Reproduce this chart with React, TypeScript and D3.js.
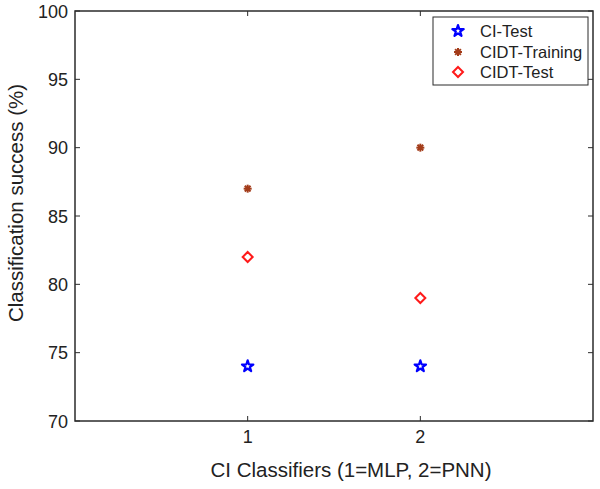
import React from "react";
import * as d3 from "d3";

const classifiers = [1, 2];
const ciTest = [74, 74];
const cidtTraining = [87, 90];
const cidtTest = [82, 79];
const yTicks = [70, 75, 80, 85, 90, 95, 100];
const xTicks = [1, 2];
const legendLabels = ["CI-Test", "CIDT-Training", "CIDT-Test"];

const W = 600;
const H = 489;
const L = 75, R = 593, T = 11, B = 421;
const FONT = "Liberation Sans, Arial, sans-serif";

function Star({ x, y }: { x: number; y: number }) {
  const p = d3.symbol().type(d3.symbolStar).size(40)();
  return <path d={p || ""} transform={`translate(${x},${y})`} fill="none" stroke="#0000ff" strokeWidth={2.2} strokeLinejoin="round" />;
}
function Asterisk({ x, y }: { x: number; y: number }) {
  const r = 4;
  const d = r * 0.72;
  return (
    <g transform={`translate(${x},${y})`} stroke="#a33c1a" strokeWidth={2}>
      <line x1={-r} y1={0} x2={r} y2={0} />
      <line x1={0} y1={-r} x2={0} y2={r} />
      <line x1={-d} y1={-d} x2={d} y2={d} />
      <line x1={-d} y1={d} x2={d} y2={-d} />
      <circle r={2.2} fill="#a33c1a" stroke="none" />
    </g>
  );
}
function Diamond({ x, y }: { x: number; y: number }) {
  const r = 5;
  return <path d={`M0,${-r}L${r},0L0,${r}L${-r},0Z`} transform={`translate(${x},${y})`} fill="none" stroke="#ff1a1a" strokeWidth={2} />;
}

export default function App() {
  const x = d3.scaleLinear().domain([0, 3]).range([L, R]);
  const y = d3.scaleLinear().domain([70, 100]).range([B, T]);
  const axisColor = "#2b2b2b";
  const legendRows = [31, 52, 72];
  return (
    <svg width={W} height={H} style={{ position: "absolute", left: 0, top: 0, background: "#fff" }} fontFamily={FONT}>
      <rect x={0} y={0} width={W} height={H} fill="#fff" />
      {yTicks.map((t) => (
        <g key={"y" + t}>
          <line x1={L} x2={L + 5} y1={y(t)} y2={y(t)} stroke={axisColor} strokeWidth={1} />
          <line x1={R} x2={R - 5} y1={y(t)} y2={y(t)} stroke={axisColor} strokeWidth={1} />
          <text x={L - 7} y={y(t) + 6.5} textAnchor="end" fontSize={18} fill="#222">{t}</text>
        </g>
      ))}
      {xTicks.map((t) => (
        <g key={"x" + t}>
          <line x1={x(t)} x2={x(t)} y1={B} y2={B - 5} stroke={axisColor} strokeWidth={1} />
          <line x1={x(t)} x2={x(t)} y1={T} y2={T + 5} stroke={axisColor} strokeWidth={1} />
          <text x={x(t)} y={443} textAnchor="middle" fontSize={18} fill="#222">{t}</text>
        </g>
      ))}
      <rect x={L} y={T} width={R - L} height={B - T} fill="none" stroke={axisColor} strokeWidth={1.5} />
      {classifiers.map((c, i) => <Star key={"s" + i} x={x(c)} y={y(ciTest[i])} />)}
      {classifiers.map((c, i) => <Asterisk key={"a" + i} x={x(c)} y={y(cidtTraining[i])} />)}
      {classifiers.map((c, i) => <Diamond key={"d" + i} x={x(c)} y={y(cidtTest[i])} />)}
      <rect x={433} y={17} width={155} height={68} fill="#fff" stroke={axisColor} strokeWidth={1} />
      <Star x={458} y={legendRows[0]} />
      <Asterisk x={458} y={legendRows[1]} />
      <Diamond x={458} y={legendRows[2]} />
      {legendLabels.map((l, i) => (
        <text key={l} x={480} y={legendRows[i] + 6} fontSize={16.5} fill="#222">{l}</text>
      ))}
      <text x={351} y={477} textAnchor="middle" fontSize={20.5} fill="#222">CI Classifiers (1=MLP, 2=PNN)</text>
      <text transform={`translate(23,203) rotate(-90)`} textAnchor="middle" fontSize={20.5} fill="#222">Classification success (%)</text>
    </svg>
  );
}
